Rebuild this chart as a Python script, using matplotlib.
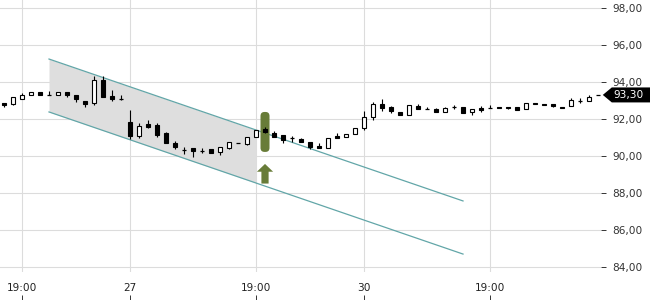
#!/usr/bin/env python3
"""Intraday candlestick chart with a falling trend channel and a breakout signal."""

import numpy as np
import matplotlib
matplotlib.use('Agg')
import matplotlib.pyplot as plt
import matplotlib.patches as patches
import matplotlib.transforms as mtransforms

# --- OHLC per candle ---
opens = [92.86, 92.79, 93.08, 93.28, 93.44, 93.28, 93.28, 93.44, 93.28, 92.96,
         92.85, 94.11, 93.24, 93.08, 91.85, 91.10, 91.73, 91.66, 91.23, 90.69,
         90.32, 90.42, 90.29, 90.36, 90.20, 90.42, 90.69, 90.63, 91.04, 91.44,
         91.26, 91.14, 90.95, 90.90, 90.74, 90.56, 90.42, 91.08, 91.01, 91.19,
         91.50, 92.12, 92.79, 92.63, 92.39, 92.20, 92.72, 92.54, 92.54, 92.39,
         92.67, 92.63, 92.36, 92.62, 92.62, 92.64, 92.64, 92.67, 92.54, 92.85,
         92.81, 92.79, 92.67, 92.72, 92.99, 92.99, 93.30]
highs = [92.87, 93.18, 93.39, 93.46, 93.45, 93.50, 93.45, 93.45, 93.29, 92.97,
         94.32, 94.32, 93.57, 93.32, 92.49, 91.77, 91.95, 91.77, 91.28, 90.83,
         90.47, 90.42, 90.43, 90.36, 90.47, 90.78, 90.70, 91.05, 91.41, 91.55,
         91.37, 91.14, 91.10, 90.99, 90.74, 90.69, 90.99, 91.23, 91.17, 91.50,
         92.43, 92.94, 93.07, 92.72, 92.39, 92.76, 92.79, 92.67, 92.58, 92.67,
         92.76, 92.63, 92.52, 92.70, 92.76, 92.64, 92.64, 92.67, 92.85, 92.88,
         92.81, 92.79, 92.67, 93.12, 93.12, 93.30, 93.30]
lows = [92.67, 92.78, 93.07, 93.27, 93.27, 93.28, 93.27, 93.21, 92.92, 92.67,
        92.77, 93.21, 92.99, 93.03, 90.90, 90.96, 91.50, 91.04, 90.69, 90.40,
        90.11, 89.96, 90.15, 90.18, 90.05, 90.40, 90.68, 90.60, 91.03, 91.23,
        91.04, 90.72, 90.77, 90.77, 90.36, 90.42, 90.42, 90.95, 91.01, 91.19,
        91.41, 91.95, 92.45, 92.31, 92.20, 92.20, 92.54, 92.54, 92.36, 92.39,
        92.54, 92.34, 92.22, 92.39, 92.62, 92.60, 92.55, 92.49, 92.54, 92.80,
        92.77, 92.64, 92.58, 92.72, 92.85, 92.99, 93.30]
closes = [92.75, 93.17, 93.28, 93.44, 93.28, 93.28, 93.44, 93.28, 93.07, 92.83,
          94.11, 93.21, 93.07, 93.08, 91.08, 91.62, 91.58, 91.15, 90.69, 90.47,
          90.32, 90.29, 90.29, 90.18, 90.47, 90.74, 90.69, 91.01, 91.39, 91.28,
          91.04, 90.86, 90.95, 90.77, 90.47, 90.42, 90.99, 90.95, 91.17, 91.50,
          92.12, 92.79, 92.58, 92.43, 92.20, 92.76, 92.54, 92.54, 92.36, 92.58,
          92.67, 92.34, 92.52, 92.49, 92.62, 92.60, 92.60, 92.49, 92.85, 92.80,
          92.77, 92.72, 92.58, 93.03, 92.99, 93.21, 93.30]

xtick_pos = [2, 14, 28, 40, 54]
xtick_labels = ['19:00', '27', '19:00', '30', '19:00']
yticks = [84, 86, 88, 90, 92, 94, 96, 98]
last_price = 93.30

# trend channel: candle index -> price
chan_x = [5, 51]
chan_upper = [95.24, 87.57]
chan_lower = [92.38, 84.70]
chan_fill_end = 28

# breakout signal
signal_idx = 29
signal_top = 92.38
signal_bottom = 90.22
arrow_tip = 89.57
arrow_base = 88.51

GREEN = '#687c38'
TEAL = '#62a6a8'
FS = 7.6

fig = plt.figure(figsize=(6.5, 3.0), dpi=100)
fig.patch.set_facecolor('white')
ax = fig.add_axes([0.0, 0.0933, 0.9246, 0.9067])

# --- channel fill + lines ---
fx = np.array([chan_x[0], chan_fill_end])
ax.fill_between(fx, np.interp(fx, chan_x, chan_lower), np.interp(fx, chan_x, chan_upper),
                color='#dedede', lw=0, zorder=1)
ax.plot(chan_x, chan_upper, color=TEAL, lw=0.9, zorder=3)
ax.plot(chan_x, chan_lower, color=TEAL, lw=0.9, zorder=3)

# --- signal bar + arrow ---
ax.add_patch(patches.FancyBboxPatch(
    (signal_idx - 0.5, signal_bottom), 1.0, signal_top - signal_bottom,
    boxstyle='round,pad=0,rounding_size=0.45', mutation_aspect=9 / 18.5,
    fc=GREEN, ec='none', zorder=4))
ax.arrow(signal_idx, arrow_base, 0, arrow_tip - arrow_base, width=0.8,
         head_width=1.8, head_length=0.42, length_includes_head=True,
         fc=GREEN, ec='none', lw=0, zorder=4)

# --- candles ---
body_w = 0.55
for i in range(len(opens)):
    o, h, l, c = opens[i], highs[i], lows[i], closes[i]
    ax.vlines(i, l, h, color='black', lw=0.8, zorder=6)
    if abs(c - o) < 0.02:
        ax.hlines(o, i - body_w / 2, i + body_w / 2, color='black', lw=0.9, zorder=7)
    else:
        fc = 'white' if c > o else 'black'
        ax.add_patch(patches.Rectangle((i - body_w / 2, min(o, c)), body_w, abs(c - o),
                                       fc=fc, ec='black', lw=0.8, zorder=7))

# --- axes formatting ---
ax.set_xlim(-0.444, 66.33)
ax.set_ylim(83.73, 98.43)
for s in ax.spines.values():
    s.set_visible(False)
ax.grid(True, color='#dcdcdc', lw=0.8, zorder=0)
ax.set_axisbelow(True)

ax.set_yticks(yticks)
ax.set_yticklabels([f'{v:.2f}'.replace('.', ',') for v in yticks])
ax.yaxis.tick_right()
ax.tick_params(axis='y', length=3.6, width=0.7, pad=4.3, colors='#333333',
               labelsize=FS)

ax.set_xticks(xtick_pos)
ax.set_xticklabels(xtick_labels)
ax.tick_params(axis='x', length=0, pad=8, labelsize=FS, labelcolor='#222222')
trans = mtransforms.blended_transform_factory(ax.transData, fig.transFigure)
ax.vlines(xtick_pos, 0.0, 0.017, transform=trans, color='#333333', lw=0.7,
          clip_on=False)

# --- last price tag ---
yt = ax.get_yaxis_transform()
hh = 0.405
tag = patches.Polygon([(1.003, last_price), (1.018, last_price + hh),
                       (1.09, last_price + hh), (1.09, last_price - hh),
                       (1.018, last_price - hh)],
                      closed=True, fc='black', ec='none', transform=yt,
                      clip_on=False, zorder=10)
ax.add_patch(tag)
ax.text(1.020, last_price, f'{last_price:.2f}'.replace('.', ','), transform=yt,
        color='white', fontsize=FS, ha='left', va='center', zorder=11,
        clip_on=False)

fig.savefig('out.png', dpi=100, facecolor='white')
